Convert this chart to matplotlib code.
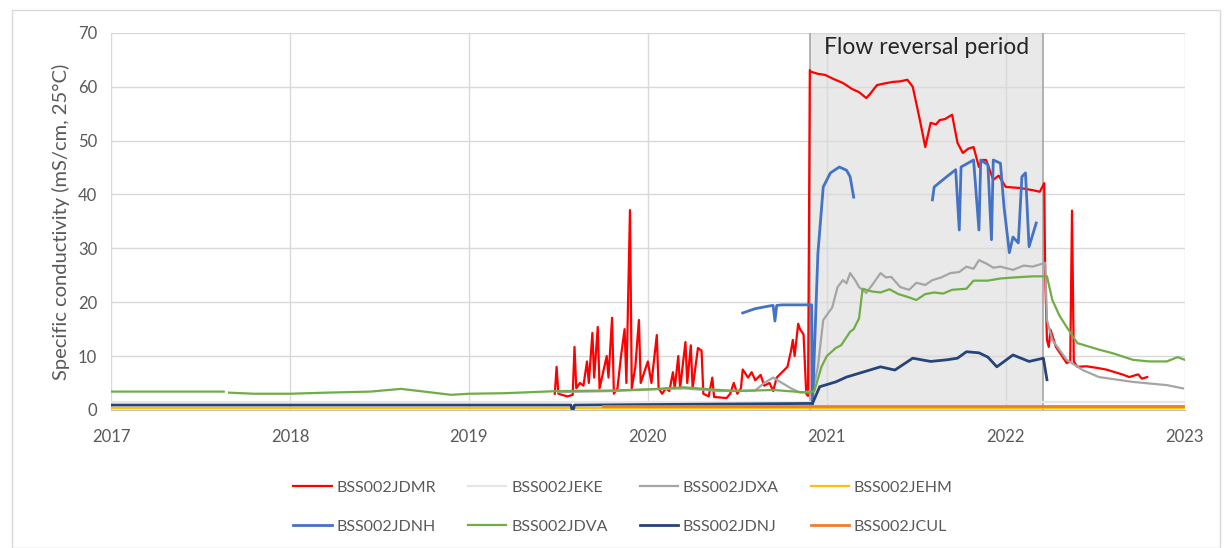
import numpy as np
import matplotlib
matplotlib.use('Agg')
import matplotlib.pyplot as plt
from matplotlib.patches import Rectangle

plt.rcParams['font.family'] = ['Lato', 'DejaVu Sans']

nan = np.nan

# decimal years and values (mS/cm)
jdmr_x = [2019.48, 2019.49, 2019.50, 2019.55, 2019.58, 2019.59, 2019.60, 2019.62, 2019.64, 2019.66,
          2019.67, 2019.69, 2019.70, 2019.72, 2019.73, 2019.75, 2019.77, 2019.78, 2019.80, 2019.81,
          2019.83, 2019.85, 2019.87, 2019.88, 2019.90, 2019.91, 2019.93, 2019.95, 2019.96, 2019.98,
          2020.00, 2020.02, 2020.05, 2020.06, 2020.08, 2020.10, 2020.12, 2020.14, 2020.15, 2020.17,
          2020.18, 2020.21, 2020.22, 2020.24, 2020.25, 2020.28, 2020.30, 2020.31, 2020.34, 2020.36,
          2020.37, 2020.44, 2020.46, 2020.48, 2020.50, 2020.52, 2020.53, 2020.56, 2020.58, 2020.60,
          2020.63, 2020.65, 2020.68, 2020.70, 2020.72, 2020.75, 2020.78, 2020.80, 2020.81, 2020.82,
          2020.84, 2020.85, 2020.87, 2020.885, 2020.895, 2020.905, 2020.91, 2020.95, 2020.99, 2021.04,
          2021.09, 2021.14, 2021.18, 2021.22, 2021.24, 2021.28, 2021.32, 2021.37, 2021.41, 2021.45,
          2021.48, 2021.52, 2021.55, 2021.58, 2021.61, 2021.63, 2021.66, 2021.70, 2021.73, 2021.76,
          2021.79, 2021.82, 2021.85, 2021.87, 2021.89, 2021.93, 2021.96, 2022.00, 2022.08, 2022.15,
          2022.19, 2022.215, 2022.22, 2022.23, 2022.24, 2022.25, 2022.28, 2022.34, 2022.36, 2022.37,
          2022.38, 2022.40, 2022.45, 2022.51, 2022.56, 2022.60, 2022.65, 2022.69, 2022.74, 2022.76,
          2022.79]
jdmr_y = [3.0, 8.0, 3.0, 2.5, 2.8, 11.7, 4.0, 5.0, 4.5, 9.0,
          5.0, 14.3, 6.0, 15.4, 4.0, 7.0, 10.0, 6.0, 17.1, 3.0,
          4.0, 10.0, 15.0, 5.0, 37.1, 4.0, 8.0, 16.7, 5.0, 7.0,
          9.0, 5.0, 13.9, 4.0, 3.0, 4.0, 3.5, 7.0, 4.0, 10.0,
          4.0, 12.6, 5.0, 12.0, 4.0, 11.5, 11.0, 3.0, 2.5, 6.0,
          2.4, 2.2, 3.0, 5.0, 3.0, 4.0, 7.5, 6.0, 7.0, 5.5,
          6.5, 4.5, 5.0, 3.5, 6.0, 7.0, 8.0, 11.0, 13.0, 10.0,
          16.0, 15.0, 14.0, 3.0, 2.6, 63.1, 62.8, 62.4, 62.2, 61.4,
          60.7, 59.6, 59.0, 57.9, 58.6, 60.3, 60.6, 60.9, 61.0, 61.3,
          60.0, 53.8, 48.8, 53.3, 53.0, 53.8, 54.0, 54.8, 49.6, 47.7,
          48.5, 48.8, 45.1, 46.4, 46.4, 42.7, 43.5, 41.4, 41.2, 40.8,
          40.5, 42.1, 25.0, 13.0, 11.7, 14.9, 11.7, 8.7, 9.0, 37.0,
          9.0, 8.0, 8.1, 7.8, 7.5, 7.1, 6.6, 6.1, 6.6, 5.8,
          6.1]

jeke_x = [2017.0, 2023.0]
jeke_y = [1.4, 1.4]

jdxa_x = [2019.50, 2019.80, 2020.00, 2020.20, 2020.40, 2020.60, 2020.65, 2020.70, 2020.75, 2020.80,
          2020.85, 2020.92, 2020.95, 2020.98, 2021.03, 2021.06, 2021.09, 2021.11, 2021.13, 2021.16,
          2021.18, 2021.22, 2021.26, 2021.30, 2021.33, 2021.36, 2021.41, 2021.46, 2021.50, 2021.55,
          2021.59, 2021.64, 2021.69, 2021.74, 2021.78, 2021.82, 2021.85, 2021.89, 2021.93, 2021.97,
          2022.04, 2022.10, 2022.15, 2022.22, 2022.23, 2022.26, 2022.34, 2022.43, 2022.52, 2022.71,
          2022.90, 2022.99]
jdxa_y = [3.3, 3.5, 3.8, 4.0, 3.5, 3.6, 5.0, 6.0, 5.0, 4.0,
          3.2, 3.5, 8.0, 16.7, 19.0, 22.8, 24.1, 23.5, 25.4, 24.0,
          22.8, 21.7, 23.5, 25.4, 24.6, 24.7, 22.8, 22.3, 23.6, 23.2,
          24.1, 24.6, 25.4, 25.6, 26.6, 26.2, 27.8, 27.2, 26.4, 26.6,
          26.0, 26.8, 26.6, 27.3, 16.7, 13.0, 9.3, 7.4, 6.1, 5.2,
          4.6, 4.0]

jehm_x = [2017.0, 2023.0]
jehm_y = [0.4, 0.4]

jdnh_x = [2020.53, 2020.60, 2020.68, 2020.70, 2020.71, 2020.72, 2020.75, 2020.85, 2020.915, 2020.92,
          2020.95, 2020.98, 2021.02, 2021.07, 2021.11, 2021.13, 2021.15, nan,
          2021.59, 2021.60, 2021.67, 2021.72, 2021.74, 2021.75, 2021.82, 2021.85, 2021.86, 2021.90,
          2021.92, 2021.93, 2021.97, 2021.99, 2022.02, 2022.04, 2022.07, 2022.09, 2022.11, 2022.13,
          2022.17]
jdnh_y = [18.0, 18.8, 19.3, 19.4, 16.5, 19.4, 19.5, 19.5, 19.5, 1.0,
          29.0, 41.4, 44.0, 45.1, 44.5, 43.3, 39.5, nan,
          39.0, 41.4, 43.3, 44.6, 33.4, 45.1, 46.4, 33.4, 46.4, 45.5,
          31.6, 46.4, 45.8, 37.7, 29.2, 32.1, 31.0, 43.3, 44.0, 30.3,
          34.7]

jdva_x = [2017.0, 2017.3, 2017.63, nan, 2017.66, 2017.8, 2018.0, 2018.2, 2018.45, 2018.62,
          2018.75, 2018.9, 2019.0, 2019.2, 2019.5, 2019.8, 2020.0, 2020.2, 2020.4, 2020.5,
          2020.7, 2020.9, 2020.93, 2020.97, 2021.00, 2021.05, 2021.08, 2021.10, 2021.13, 2021.15,
          2021.18, 2021.20, 2021.25, 2021.30, 2021.35, 2021.40, 2021.45, 2021.50, 2021.55, 2021.60,
          2021.65, 2021.70, 2021.78, 2021.82, 2021.90, 2021.97, 2022.05, 2022.15, 2022.23, 2022.26,
          2022.30, 2022.34, 2022.40, 2022.47, 2022.52, 2022.60, 2022.71, 2022.80, 2022.90, 2022.96,
          2023.0]
jdva_y = [3.4, 3.4, 3.4, nan, 3.2, 3.0, 3.0, 3.2, 3.4, 3.9,
          3.4, 2.8, 3.0, 3.1, 3.5, 3.6, 3.8, 4.2, 3.7, 3.5,
          3.7, 3.2, 3.5, 8.0, 10.0, 11.5, 12.0, 13.0, 14.5, 15.0,
          17.0, 22.5, 22.0, 21.8, 22.4, 21.5, 21.0, 20.4, 21.5, 21.8,
          21.6, 22.3, 22.5, 24.0, 24.0, 24.4, 24.6, 24.8, 24.8, 20.4,
          17.5, 15.4, 12.4, 11.7, 11.2, 10.5, 9.3, 9.0, 9.0, 9.8,
          9.3]

jdnj_x = [2017.0, 2019.57, 2019.58, 2019.59, 2020.92, 2020.96, 2021.05, 2021.11, 2021.20, 2021.30,
          2021.38, 2021.48, 2021.58, 2021.67, 2021.73, 2021.78, 2021.85, 2021.90, 2021.95, 2022.04,
          2022.13, 2022.21, 2022.23]
jdnj_y = [0.9, 0.9, -0.5, 0.9, 1.2, 4.3, 5.2, 6.1, 7.0, 8.0,
          7.4, 9.6, 9.0, 9.3, 9.6, 10.8, 10.6, 9.8, 8.0, 10.2,
          9.0, 9.6, 5.6]

jcul_x = [2019.75, 2023.0]
jcul_y = [0.7, 0.7]

series = [
    ('BSS002JDMR', jdmr_x, jdmr_y, '#FF0000'),
    ('BSS002JEKE', jeke_x, jeke_y, '#E7E6E6'),
    ('BSS002JDXA', jdxa_x, jdxa_y, '#A5A5A5'),
    ('BSS002JEHM', jehm_x, jehm_y, '#FFC000'),
    ('BSS002JDNH', jdnh_x, jdnh_y, '#4472C4'),
    ('BSS002JDVA', jdva_x, jdva_y, '#70AD47'),
    ('BSS002JDNJ', jdnj_x, jdnj_y, '#264478'),
    ('BSS002JCUL', jcul_x, jcul_y, '#ED7D31'),
]

fig = plt.figure(figsize=(12.29, 5.48), dpi=100)
ax = fig.add_axes([0.0903, 0.252, 0.8737, 0.688])

# flow reversal period
ax.axvspan(2020.905, 2022.207, facecolor='#C8C8C8', alpha=0.4, edgecolor='none', zorder=0.5)
ax.axvline(2020.905, color='#A6A6A6', linewidth=1.2, zorder=0.6)
ax.axvline(2022.207, color='#A6A6A6', linewidth=1.2, zorder=0.6)
ax.text(2021.556, 67.3, 'Flow reversal period', ha='center', va='center', fontsize=16.5, color='#262626')

draw_order = [1, 3, 7, 6, 5, 2, 4, 0]
handles = {}
for i in draw_order:
    name, xs, ys, col = series[i]
    lw = 2.0 if name in ('BSS002JDNH', 'BSS002JDNJ', 'BSS002JCUL') else 1.6
    line, = ax.plot(xs, ys, color=col, linewidth=lw, label=name, zorder=2 + i * 0.01)
    handles[name] = line

ax.set_xlim(2017, 2023)
ax.set_ylim(0, 70)
ax.set_xticks(range(2017, 2024))
ax.set_yticks(range(0, 71, 10))
ax.grid(True, color='#D9D9D9', linewidth=1.0, zorder=0)
ax.set_axisbelow(True)
ax.tick_params(length=0, labelsize=12, colors='#595959', pad=10)
ax.tick_params(axis='x', pad=14)
for s in ax.spines.values():
    s.set_visible(False)
ax.spines['bottom'].set_visible(True)
ax.spines['bottom'].set_color('#BFBFBF')
ax.set_ylabel('Specific conductivity (mS/cm, 25°C)', fontsize=14.5, color='#595959', labelpad=6)

# legend is filled column by column, so interleave the two rows
names = [s[0] for s in series]
leg_order = [names[0], names[4], names[1], names[5], names[2], names[6], names[3], names[7]]
fig.legend([handles[n] for n in leg_order], leg_order, loc='lower center', bbox_to_anchor=(0.507, 0.0),
           ncol=4, frameon=False, fontsize=11.5, labelcolor='#595959', handlelength=2.4,
           columnspacing=2.0, handletextpad=0.3, labelspacing=1.55)

# chart border
fig.patches.append(Rectangle((0.01, 0.0), 0.983, 0.982, transform=fig.transFigure,
                             fill=False, edgecolor='#D9D9D9', linewidth=1.0))

fig.savefig('out.png', dpi=100)
